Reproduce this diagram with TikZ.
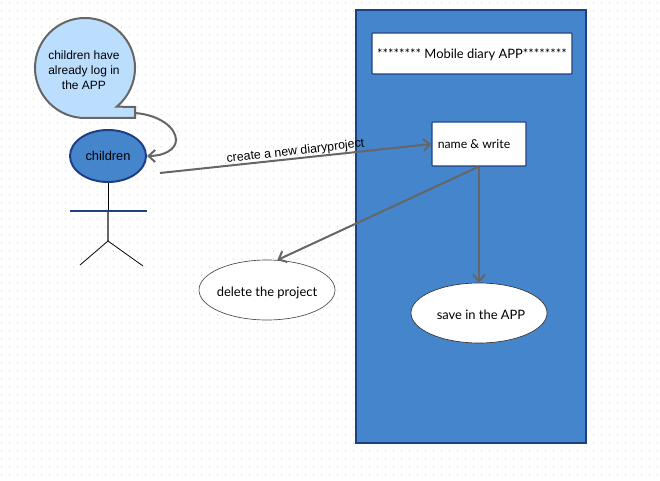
\documentclass[tikz,border=0pt]{standalone}
\usepackage{fontspec}
\setmainfont{Liberation Sans}
\newfontfamily\handfont{Lato}
\usetikzlibrary{shapes.geometric,arrows.meta}
\definecolor{appblue}{HTML}{4485CC}
\definecolor{appnavy}{HTML}{1F3F84}
\definecolor{linegray}{HTML}{666666}
\definecolor{bubbleblue}{HTML}{BBDEFF}
\tikzset{
  link/.style={draw=linegray,line width=1.5pt,-{Straight Barb[length=5pt,width=9pt]}},
  stick/.style={draw=black,line width=0.6pt},
  usecase/.style={ellipse,draw=black!70,line width=0.5pt,fill=white,minimum width=102pt,minimum height=45pt,inner sep=-4pt,text height=9.5pt,text depth=0pt,font=\handfont\fontsize{9.7}{11}\selectfont},
  screenbox/.style={rectangle,draw=appnavy,line width=0.8pt,fill=white,rounded corners=0.6pt,inner sep=0pt,text height=8pt,text depth=1pt,font=\handfont\fontsize{9.7}{11}\selectfont}
}
\begin{document}
\begin{tikzpicture}[x=0.75pt,y=0.75pt,yscale=-1]
\useasboundingbox (0,0) rectangle (660,481);
\fill[white] (0,0) rectangle (660,481);
\foreach \i in {0,...,82}
  \foreach \j in {0,...,59}
    \fill[black!11] (\i*8+1,\j*8+2) rectangle ++(1,2);
\draw[draw=appnavy,line width=1.5pt,fill=appblue] (356,10) rectangle (586,443);
\draw[draw=linegray,line width=1.5pt,fill=bubbleblue] (85,118) arc[start angle=90,end angle=410.6,radius=50] -- (135,107) -- (135,118) -- cycle;
\node[align=center,font=\fontsize{9}{11.2}\selectfont] (bubble) at (84,70) {children have\\already log in\\the APP};
\node[ellipse,draw=appnavy,line width=1.5pt,fill=appblue,minimum width=57pt,minimum height=39pt,inner sep=0pt,font=\fontsize{9.6}{11}\selectfont] (children) at (108,156) {children};
\node[screenbox,minimum width=150pt,minimum height=30.75pt] (title) at (472,53.5) {******** Mobile diary APP********};
\node[screenbox,minimum width=70.5pt,minimum height=33pt,font=\handfont\fontsize{9.2}{11}\selectfont] (namewrite) at (479,144) {name \& write\kern7.5pt};
\node[usecase] (deleteproject) at (267,290) {delete the project};
\node[usecase,draw=black!80] (saveapp) at (479,313) {\hspace{3pt}save in the APP};
\coordinate (tail) at (135,113);
\coordinate (hand) at (160,173);
\coordinate (armleft) at (70,211);
\coordinate (armright) at (147,211);
\coordinate (armmid) at (108,211);
\coordinate (hip) at (108,241);
\coordinate (footleft) at (80,265);
\coordinate (footright) at (143,266);
\path[stick] (children.south) edge (armmid);
\path[stick,draw=linegray,line width=1pt] (armmid) edge (hip);
\path[draw=appnavy,line width=1.2pt] (armleft) edge (armright);
\path[stick] (hip) edge (footleft);
\path[stick] (hip) edge (footright);
\draw[link] (tail) .. controls (160,115) and (176,128) .. (176,140) .. controls (176,150) and (163,156) .. (children.east);
\draw[link] (hand) -- (namewrite.west);
\draw[link] (namewrite.south) -- (deleteproject.71);
\draw[link] (namewrite.south) -- (saveapp.north);
\node[rotate=6.5,font=\fontsize{9.3}{11}\selectfont,inner sep=0pt] (createlabel) at (295.5,151.5) {create a new diaryproject};
\end{tikzpicture}
\end{document}
